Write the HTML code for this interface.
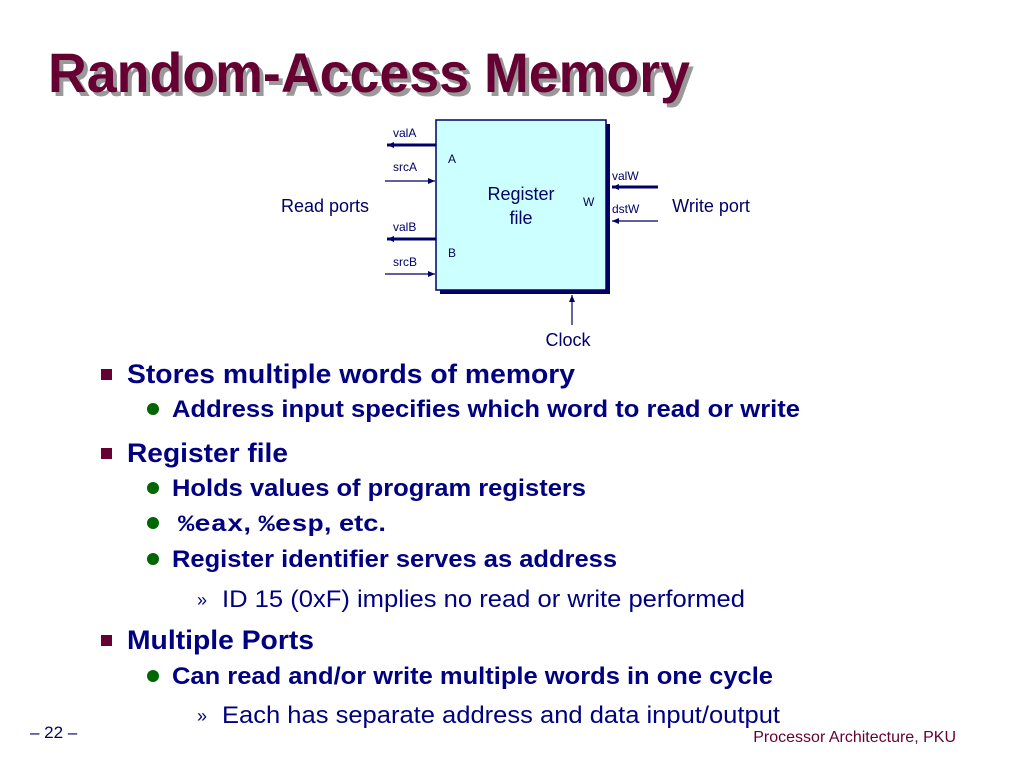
<!DOCTYPE html>
<html><head><meta charset="utf-8"><style>
body{margin:0;background:#fff}
svg{display:block}
</style></head><body>
<svg width="1024" height="767" viewBox="0 0 1024 767" xmlns="http://www.w3.org/2000/svg" font-family="Liberation Sans, Arial, sans-serif">
<defs>
<marker id="ah" markerWidth="8" markerHeight="8" refX="7" refY="4" orient="auto" markerUnits="userSpaceOnUse"><path d="M0,1 L7,4 L0,7 z" fill="#000066"/></marker>
</defs>
<rect width="1024" height="767" fill="#fff"/>
<text x="52" y="96" font-size="56" font-weight="bold" fill="#999" textLength="642" lengthAdjust="spacingAndGlyphs">Random-Access Memory</text>
<text x="48" y="92" font-size="56" font-weight="bold" fill="#660033" textLength="642" lengthAdjust="spacingAndGlyphs">Random-Access Memory</text>

<rect x="440" y="124" width="170" height="170" fill="#000066"/>
<rect x="436" y="120" width="170" height="170" fill="#ccffff" stroke="#000066" stroke-width="1.5"/>
<g fill="#000066" font-size="12">
<text x="393" y="137">valA</text>
<text x="393" y="171">srcA</text>
<text x="393" y="231">valB</text>
<text x="393" y="266">srcB</text>
<text x="448" y="163">A</text>
<text x="448" y="257">B</text>
<text x="583" y="206">W</text>
<text x="612" y="180">valW</text>
<text x="612" y="213">dstW</text>
</g>
<g fill="#000066" font-size="18" text-anchor="middle">
<text x="521" y="200">Register</text>
<text x="521" y="224">file</text>
<text x="325" y="212">Read ports</text>
<text x="711" y="212">Write port</text>
<text x="568" y="346">Clock</text>
</g>
<g stroke="#000066" fill="none">
<line x1="436" y1="145" x2="387" y2="145" stroke-width="3" marker-end="url(#ah)"/>
<line x1="385" y1="181" x2="435" y2="181" stroke-width="1.2" marker-end="url(#ah)"/>
<line x1="436" y1="239" x2="387" y2="239" stroke-width="3" marker-end="url(#ah)"/>
<line x1="385" y1="274" x2="435" y2="274" stroke-width="1.2" marker-end="url(#ah)"/>
<line x1="658" y1="187" x2="612" y2="187" stroke-width="3" marker-end="url(#ah)"/>
<line x1="658" y1="221" x2="612" y2="221" stroke-width="1.2" marker-end="url(#ah)"/>
<line x1="572" y1="325" x2="572" y2="295" stroke-width="1.2" marker-end="url(#ah)"/>
</g>

<g fill="#660033">
<rect x="101" y="369" width="11" height="11"/>
<rect x="101" y="448" width="11" height="11"/>
<rect x="101" y="635" width="11" height="11"/>
</g>
<g fill="#006600">
<circle cx="153" cy="409" r="6"/>
<circle cx="153" cy="488" r="6"/>
<circle cx="153" cy="523" r="6"/>
<circle cx="153" cy="559" r="6"/>
<circle cx="153" cy="676" r="6"/>
</g>
<g fill="#000080" font-weight="bold">
<text x="127" y="383" font-size="27" textLength="448" lengthAdjust="spacingAndGlyphs">Stores multiple words of memory</text>
<text x="172" y="417" font-size="24" textLength="628" lengthAdjust="spacingAndGlyphs">Address input specifies which word to read or write</text>
<text x="127" y="462" font-size="27" textLength="161" lengthAdjust="spacingAndGlyphs">Register file</text>
<text x="172" y="496" font-size="24" textLength="414" lengthAdjust="spacingAndGlyphs">Holds values of program registers</text>
<text x="178" y="531" font-size="23" textLength="208" lengthAdjust="spacingAndGlyphs"><tspan font-family="Liberation Mono, monospace">%eax</tspan>, <tspan font-family="Liberation Mono, monospace">%esp</tspan>, etc.</text>
<text x="172" y="567" font-size="24" textLength="445" lengthAdjust="spacingAndGlyphs">Register identifier serves as address</text>
<text x="127" y="649" font-size="27" textLength="187" lengthAdjust="spacingAndGlyphs">Multiple Ports</text>
<text x="172" y="684" font-size="24" textLength="601" lengthAdjust="spacingAndGlyphs">Can read and/or write multiple words in one cycle</text>
</g>
<g fill="#000080" font-size="24">
<text x="197" y="606" font-size="18">»</text>
<text x="222" y="607" textLength="523" lengthAdjust="spacingAndGlyphs">ID 15 (0xF) implies no read or write performed</text>
<text x="197" y="722" font-size="18">»</text>
<text x="222" y="723" textLength="558" lengthAdjust="spacingAndGlyphs">Each has separate address and data input/output</text>
</g>
<text x="30" y="738" font-size="17" fill="#000066">– 22 –</text>
<text x="956" y="742" font-size="16" fill="#660033" text-anchor="end">Processor Architecture, PKU</text>
</svg>
</body></html>
